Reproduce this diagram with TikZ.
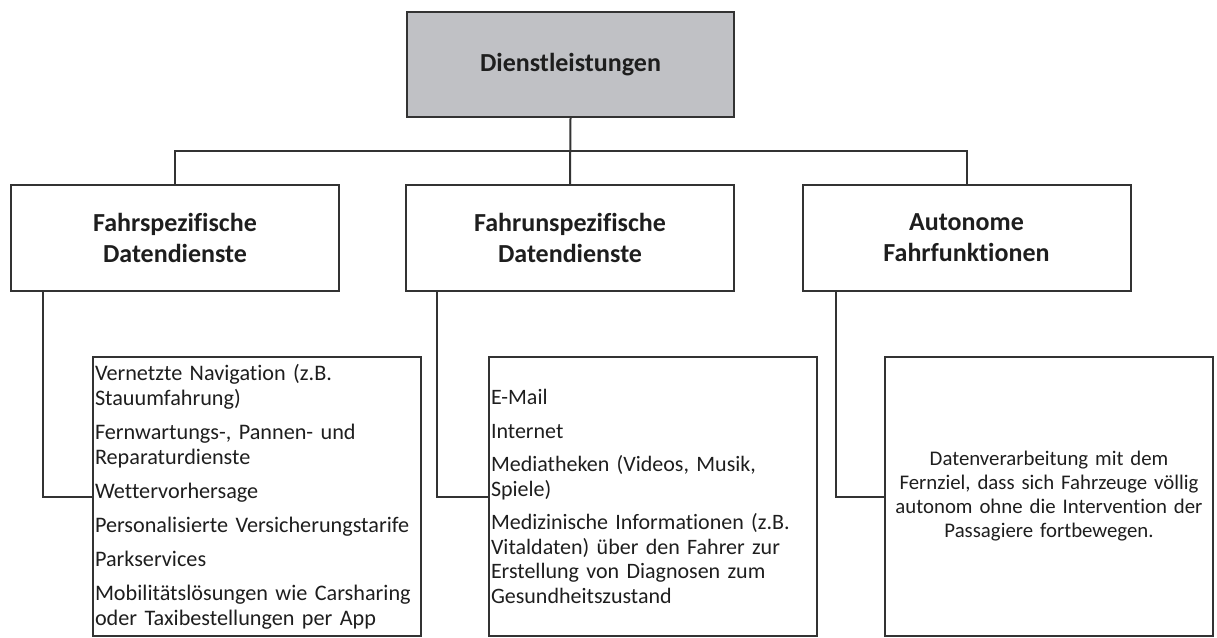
\documentclass[tikz,border=0pt]{standalone}
\usepackage{fontspec}
\setmainfont{Carlito}[Ligatures=NoCommon]
\definecolor{linec}{HTML}{333333}
\definecolor{textc}{HTML}{1E1E1E}
\definecolor{topfill}{HTML}{C0C1C5}
\begin{document}
\begin{tikzpicture}[x=1pt,y=-1pt,
  every node/.style={text=textc},
  box/.style={draw=linec, line width=2pt, inner sep=0pt, align=center,
    font=\fontsize{26}{31}\selectfont\bfseries},
  headbox/.style={box, minimum width=328pt, minimum height=106pt},
  listbox/.style={draw=linec, line width=2pt, inner sep=2pt,
    minimum width=328pt, minimum height=279pt,
    font=\fontsize{22.2}{25}\selectfont},
  conn/.style={draw=linec, line width=2pt}
]
\useasboundingbox (0,0) rectangle (1217,637);

\node[box, fill=topfill, minimum width=327pt, minimum height=105pt] (top) at (570.5,64.5) {Dienstleistungen};

\node[headbox] (b1) at (175,238) {Fahrspezifische\\Datendienste};
\node[headbox] (b2) at (570,238) {Fahrunspezifische\\Datendienste};
\node[headbox] (b3) at (966.5,238) {Autonome\\Fahrfunktionen};

\coordinate (bus) at (0,151);

\node[listbox, text width=324pt, align=left] (l1) at (257,496.5) {%
Vernetzte Navigation (z.B.\\Stauumfahrung)\\[9pt]
Fernwartungs-, Pannen- und\\Reparaturdienste\\[9pt]
Wettervorhersage\\[9pt]
Personalisierte Versicherungstarife\\[9pt]
Parkservices\\[9pt]
Mobilitätslösungen wie Carsharing\\oder Taxibestellungen per App};

\node[listbox, text width=324pt, align=left, font=\fontsize{22}{24.5}\selectfont] (l2) at (653,496.5) {%
E-Mail\\[9pt]
Internet\\[9pt]
Mediatheken (Videos, Musik,\\Spiele)\\[9pt]
Medizinische Informationen (z.B.\\Vitaldaten) über den Fahrer zur\\Erstellung von Diagnosen zum\\Gesundheitszustand};

\node[listbox, text width=324pt, align=center, font=\fontsize{20.8}{24}\selectfont] (l3) at (1049,496.5) {%
Datenverarbeitung mit dem\\Fernziel, dass sich Fahrzeuge völlig\\autonom ohne die Intervention der\\Passagiere fortbewegen.};

\draw[conn] (top.south) -- (b2.north);
\draw[conn] (b1.north) -- (b1.north |- bus) -- (b3.north |- bus) -- (b3.north);

\draw[conn] ([xshift=33pt]b1.south west) |- (l1.west);
\draw[conn] ([xshift=32pt]b2.south west) |- (l2.west);
\draw[conn] ([xshift=34pt]b3.south west) |- (l3.west);
\end{tikzpicture}
\end{document}
